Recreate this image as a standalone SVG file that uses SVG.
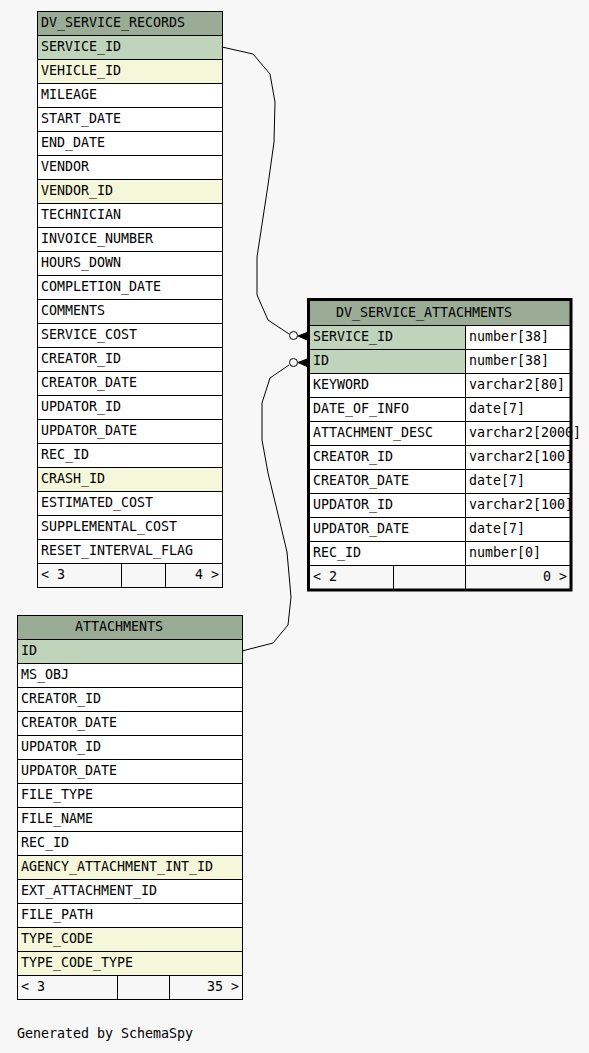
<svg xmlns="http://www.w3.org/2000/svg" width="589" height="1053" viewBox="0 0 589 1053">
<style>
rect{stroke:#000;stroke-width:1}
.hdr{fill:#9aab96}
.pk{fill:#bfd4bb}
.fk{fill:#f4f7da}
.pl{fill:#ffffff}
.ft{fill:#f7f7f7}
text{font-family:"DejaVu Sans Mono","Liberation Mono",monospace;font-size:13.3px;fill:#000}
.end{text-anchor:end}
.conn{fill:none;stroke:#000;stroke-width:1}
.dot{fill:#fff;stroke:#000;stroke-width:1}
.crow{fill:#000;stroke:#000;stroke-width:1}
</style>
<rect x="0" y="0" width="589" height="1053" style="fill:#f7f7f7;stroke:none"/>

<g id="DV_SERVICE_RECORDS">
<rect class="hdr" x="37.5" y="11.5" width="185" height="24"/>
<text x="41" y="27">DV_SERVICE_RECORDS</text>
<rect class="pk" x="37.5" y="35.5" width="185" height="24"/><text x="41" y="51">SERVICE_ID</text>
<rect class="fk" x="37.5" y="59.5" width="185" height="24"/><text x="41" y="75">VEHICLE_ID</text>
<rect class="pl" x="37.5" y="83.5" width="185" height="24"/><text x="41" y="99">MILEAGE</text>
<rect class="pl" x="37.5" y="107.5" width="185" height="24"/><text x="41" y="123">START_DATE</text>
<rect class="pl" x="37.5" y="131.5" width="185" height="24"/><text x="41" y="147">END_DATE</text>
<rect class="pl" x="37.5" y="155.5" width="185" height="24"/><text x="41" y="171">VENDOR</text>
<rect class="fk" x="37.5" y="179.5" width="185" height="24"/><text x="41" y="195">VENDOR_ID</text>
<rect class="pl" x="37.5" y="203.5" width="185" height="24"/><text x="41" y="219">TECHNICIAN</text>
<rect class="pl" x="37.5" y="227.5" width="185" height="24"/><text x="41" y="243">INVOICE_NUMBER</text>
<rect class="pl" x="37.5" y="251.5" width="185" height="24"/><text x="41" y="267">HOURS_DOWN</text>
<rect class="pl" x="37.5" y="275.5" width="185" height="24"/><text x="41" y="291">COMPLETION_DATE</text>
<rect class="pl" x="37.5" y="299.5" width="185" height="24"/><text x="41" y="315">COMMENTS</text>
<rect class="pl" x="37.5" y="323.5" width="185" height="24"/><text x="41" y="339">SERVICE_COST</text>
<rect class="pl" x="37.5" y="347.5" width="185" height="24"/><text x="41" y="363">CREATOR_ID</text>
<rect class="pl" x="37.5" y="371.5" width="185" height="24"/><text x="41" y="387">CREATOR_DATE</text>
<rect class="pl" x="37.5" y="395.5" width="185" height="24"/><text x="41" y="411">UPDATOR_ID</text>
<rect class="pl" x="37.5" y="419.5" width="185" height="24"/><text x="41" y="435">UPDATOR_DATE</text>
<rect class="pl" x="37.5" y="443.5" width="185" height="24"/><text x="41" y="459">REC_ID</text>
<rect class="fk" x="37.5" y="467.5" width="185" height="24"/><text x="41" y="483">CRASH_ID</text>
<rect class="pl" x="37.5" y="491.5" width="185" height="24"/><text x="41" y="507">ESTIMATED_COST</text>
<rect class="pl" x="37.5" y="515.5" width="185" height="24"/><text x="41" y="531">SUPPLEMENTAL_COST</text>
<rect class="pl" x="37.5" y="539.5" width="185" height="24"/><text x="41" y="555">RESET_INTERVAL_FLAG</text>
<rect class="ft" x="37.5" y="563.5" width="84" height="24"/>
<rect class="ft" x="121.5" y="563.5" width="44" height="24"/>
<rect class="ft" x="165.5" y="563.5" width="57" height="24"/>
<text x="41" y="579">&lt; 3</text>
<text class="end" x="219" y="579">4 &gt;</text>
</g>

<g id="DV_SERVICE_ATTACHMENTS">
<rect class="hdr" x="308.5" y="299.5" width="262" height="26"/>
<text x="336" y="317">DV_SERVICE_ATTACHMENTS</text>
<rect class="pk" x="308.5" y="325.5" width="157" height="24"/><rect class="pl" x="465.5" y="325.5" width="105" height="24"/>
<text x="313" y="341">SERVICE_ID</text><text x="469" y="341">number[38]</text>
<rect class="pk" x="308.5" y="349.5" width="157" height="24"/><rect class="pl" x="465.5" y="349.5" width="105" height="24"/>
<text x="313" y="365">ID</text><text x="469" y="365">number[38]</text>
<rect class="pl" x="308.5" y="373.5" width="157" height="24"/><rect class="pl" x="465.5" y="373.5" width="105" height="24"/>
<text x="313" y="389">KEYWORD</text><text x="469" y="389">varchar2[80]</text>
<rect class="pl" x="308.5" y="397.5" width="157" height="24"/><rect class="pl" x="465.5" y="397.5" width="105" height="24"/>
<text x="313" y="413">DATE_OF_INFO</text><text x="469" y="413">date[7]</text>
<rect class="pl" x="308.5" y="421.5" width="157" height="24"/><rect class="pl" x="465.5" y="421.5" width="105" height="24"/>
<text x="313" y="437">ATTACHMENT_DESC</text><text x="469" y="437">varchar2[2000]</text>
<rect class="pl" x="308.5" y="445.5" width="157" height="24"/><rect class="pl" x="465.5" y="445.5" width="105" height="24"/>
<text x="313" y="461">CREATOR_ID</text><text x="469" y="461">varchar2[100]</text>
<rect class="pl" x="308.5" y="469.5" width="157" height="24"/><rect class="pl" x="465.5" y="469.5" width="105" height="24"/>
<text x="313" y="485">CREATOR_DATE</text><text x="469" y="485">date[7]</text>
<rect class="pl" x="308.5" y="493.5" width="157" height="24"/><rect class="pl" x="465.5" y="493.5" width="105" height="24"/>
<text x="313" y="509">UPDATOR_ID</text><text x="469" y="509">varchar2[100]</text>
<rect class="pl" x="308.5" y="517.5" width="157" height="24"/><rect class="pl" x="465.5" y="517.5" width="105" height="24"/>
<text x="313" y="533">UPDATOR_DATE</text><text x="469" y="533">date[7]</text>
<rect class="pl" x="308.5" y="541.5" width="157" height="24"/><rect class="pl" x="465.5" y="541.5" width="105" height="24"/>
<text x="313" y="557">REC_ID</text><text x="469" y="557">number[0]</text>
<rect class="ft" x="308.5" y="565.5" width="85" height="24"/>
<rect class="ft" x="393.5" y="565.5" width="72" height="24"/>
<rect class="ft" x="465.5" y="565.5" width="105" height="24"/>
<text x="313" y="581">&lt; 2</text>
<text class="end" x="567" y="581">0 &gt;</text>
<rect x="308.5" y="299.5" width="262.5" height="290.5" style="fill:none;stroke:#000;stroke-width:3"/>
</g>

<g id="ATTACHMENTS">
<rect class="hdr" x="17.5" y="615.5" width="225" height="24"/>
<text x="75" y="631">ATTACHMENTS</text>
<rect class="pk" x="17.5" y="639.5" width="225" height="24"/><text x="21" y="655">ID</text>
<rect class="pl" x="17.5" y="663.5" width="225" height="24"/><text x="21" y="679">MS_OBJ</text>
<rect class="pl" x="17.5" y="687.5" width="225" height="24"/><text x="21" y="703">CREATOR_ID</text>
<rect class="pl" x="17.5" y="711.5" width="225" height="24"/><text x="21" y="727">CREATOR_DATE</text>
<rect class="pl" x="17.5" y="735.5" width="225" height="24"/><text x="21" y="751">UPDATOR_ID</text>
<rect class="pl" x="17.5" y="759.5" width="225" height="24"/><text x="21" y="775">UPDATOR_DATE</text>
<rect class="pl" x="17.5" y="783.5" width="225" height="24"/><text x="21" y="799">FILE_TYPE</text>
<rect class="pl" x="17.5" y="807.5" width="225" height="24"/><text x="21" y="823">FILE_NAME</text>
<rect class="pl" x="17.5" y="831.5" width="225" height="24"/><text x="21" y="847">REC_ID</text>
<rect class="fk" x="17.5" y="855.5" width="225" height="24"/><text x="21" y="871">AGENCY_ATTACHMENT_INT_ID</text>
<rect class="pl" x="17.5" y="879.5" width="225" height="24"/><text x="21" y="895">EXT_ATTACHMENT_ID</text>
<rect class="pl" x="17.5" y="903.5" width="225" height="24"/><text x="21" y="919">FILE_PATH</text>
<rect class="fk" x="17.5" y="927.5" width="225" height="24"/><text x="21" y="943">TYPE_CODE</text>
<rect class="fk" x="17.5" y="951.5" width="225" height="24"/><text x="21" y="967">TYPE_CODE_TYPE</text>
<rect class="ft" x="17.5" y="975.5" width="100" height="24"/>
<rect class="ft" x="117.5" y="975.5" width="52" height="24"/>
<rect class="ft" x="169.5" y="975.5" width="73" height="24"/>
<text x="21" y="991">&lt; 3</text>
<text class="end" x="239" y="991">35 &gt;</text>
</g>

<g id="connectors">
<polyline class="conn" points="222,47 253,54 270,74 275,102 274,142 268,185 257,257 257,295 268,320 289,334"/>
<polygon class="crow" points="298,336 307,332.5 307,340"/>
<circle class="dot" cx="293.5" cy="335.5" r="4"/>
<polyline class="conn" points="242,651 273,643 288,625 291,597 287,552 277,510 268,473 262,440 262,403 270,378 289,365"/>
<polygon class="crow" points="298,362.5 307,359 307,366.5"/>
<circle class="dot" cx="293.5" cy="362.5" r="4"/>
</g>

<text x="17" y="1038">Generated by SchemaSpy</text>
</svg>
